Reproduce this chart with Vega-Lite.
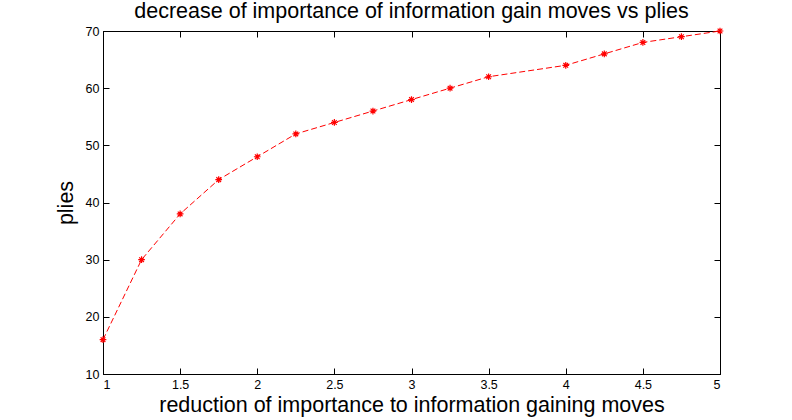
{
  "$schema": "https://vega.github.io/schema/vega-lite/v6.json",
  "width": 617,
  "height": 343,
  "autosize": {"type": "none"},
  "padding": {"left": 103, "top": 31, "right": 72, "bottom": 46},
  "background": "white",
  "title": {"text": "decrease of importance of information gain moves vs plies", "font": "Liberation Sans", "fontSize": 21.5, "fontWeight": "normal", "color": "black", "offset": 3, "anchor": "middle"},
  "config": {
    "view": {"stroke": "black", "strokeWidth": 1},
    "axis": {"domainColor": "black", "tickColor": "black", "labelColor": "black", "labelFont": "Liberation Sans", "labelFontSize": 12.5, "titleFont": "Liberation Sans", "titleFontWeight": "normal", "titleColor": "black", "grid": false, "tickSize": -6, "domain": true}
  },
  "data": {"values": [
    {"r": 1, "plies": 16},
    {"r": 1.25, "plies": 30},
    {"r": 1.5, "plies": 38},
    {"r": 1.75, "plies": 44},
    {"r": 2, "plies": 48},
    {"r": 2.25, "plies": 52},
    {"r": 2.5, "plies": 54},
    {"r": 2.75, "plies": 56},
    {"r": 3, "plies": 58},
    {"r": 3.25, "plies": 60},
    {"r": 3.5, "plies": 62},
    {"r": 4, "plies": 64},
    {"r": 4.25, "plies": 66},
    {"r": 4.5, "plies": 68},
    {"r": 4.75, "plies": 69},
    {"r": 5, "plies": 70}
  ]},
  "layer": [
    {
      "mark": {"type": "line", "color": "red", "strokeWidth": 1, "strokeDash": [6, 3]},
      "encoding": {
        "x": {"field": "r", "type": "quantitative", "scale": {"domain": [1, 5], "nice": false, "zero": false},
              "axis": {"orient": "bottom", "values": [1, 1.5, 2, 2.5, 3, 3.5, 4, 4.5, 5], "format": "~g", "title": "reduction of importance to information gaining moves", "titleFontSize": 21.5, "titlePadding": 4, "labelPadding": 10}},
        "y": {"field": "plies", "type": "quantitative", "scale": {"domain": [10, 70], "nice": false, "zero": false},
              "axis": {"orient": "left", "values": [10, 20, 30, 40, 50, 60, 70], "title": "plies", "titleFontSize": 21.5, "titlePadding": 8, "labelPadding": 10}}
      }
    },
    {
      "mark": {"type": "point", "shape": "M-1,0L1,0M0,-1L0,1M-0.7,-0.7L0.7,0.7M-0.7,0.7L0.7,-0.7", "filled": false, "color": "red", "strokeWidth": 1.2, "size": 45, "opacity": 1},
      "encoding": {
        "x": {"field": "r", "type": "quantitative", "axis": {"orient": "top", "values": [1, 1.5, 2, 2.5, 3, 3.5, 4, 4.5, 5], "labels": false, "title": null}},
        "y": {"field": "plies", "type": "quantitative", "axis": {"orient": "right", "values": [10, 20, 30, 40, 50, 60, 70], "labels": false, "title": null}}
      }
    }
  ],
  "resolve": {"axis": {"x": "independent", "y": "independent"}}
}
